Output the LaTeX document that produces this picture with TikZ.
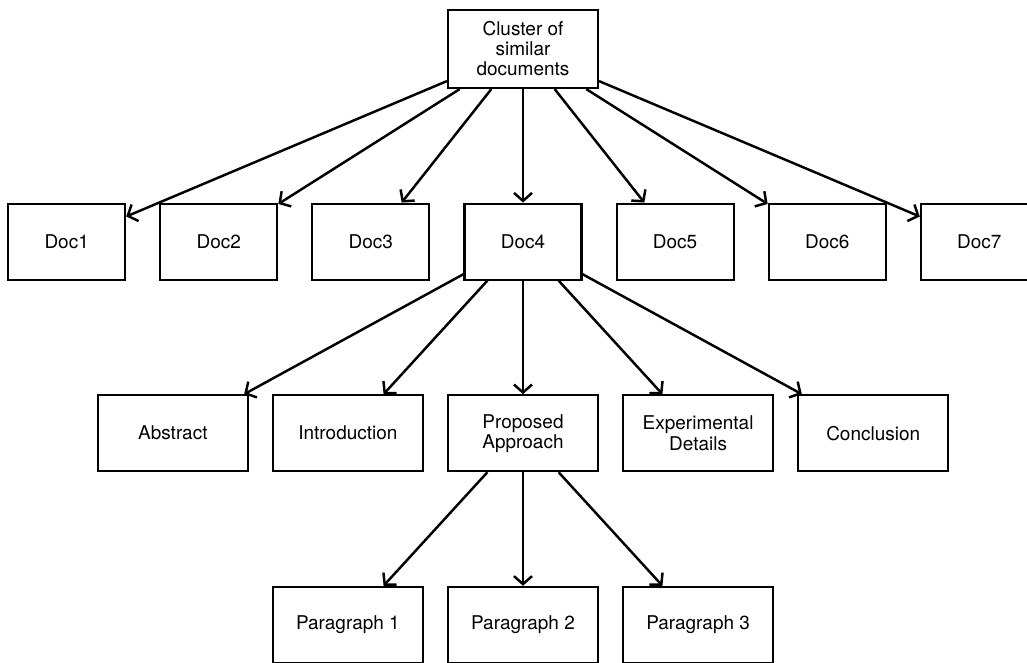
\documentclass[tikz,border=0pt]{standalone}
\usepackage{fontspec}
\setmainfont{TeX Gyre Heros}
\usetikzlibrary{arrows.meta,positioning}

\begin{document}
\begin{tikzpicture}[
node distance=2.27cm and 0.66cm,
docbox/.style={
    draw,
    line width=1.2pt,
    minimum width=2.34cm,
    minimum height=1.52cm,
    inner sep=2pt,
    align=center,
    font=\fontsize{10.8}{11.4}\selectfont
},
partbox/.style={docbox, minimum width=3cm},
arrow/.style={-{Straight Barb[length=1.6mm,width=3.6mm]}, line width=1.4pt}
]
\useasboundingbox (-10.46,0.98) rectangle (10.08,-12.26);

\node[partbox, minimum height=1.56cm] (cluster) {Cluster of\\similar\\documents};

% documents
\node[docbox, below=of cluster] (doc4) {Doc4};
\node[docbox, left=of doc4] (doc3) {Doc3};
\node[docbox, left=of doc3] (doc2) {Doc2};
\node[docbox, left=of doc2] (doc1) {Doc1};
\node[docbox, right=of doc4] (doc5) {Doc5};
\node[docbox, right=of doc5] (doc6) {Doc6};
\node[docbox, right=of doc6] (doc7) {Doc7};

% sections of Doc4
\node[partbox, below=of doc4] (approach) {Proposed\\Approach};
\node[partbox, left=0.46cm of approach] (intro) {Introduction};
\node[partbox, left=0.46cm of intro] (abstract) {Abstract};
\node[partbox, right=0.46cm of approach] (details) {Experimental\\Details};
\node[partbox, right=0.46cm of details] (concl) {Conclusion};

% paragraphs
\node[partbox, below=of approach] (para2) {Paragraph 2};
\node[partbox, left=0.46cm of para2] (para1) {Paragraph 1};
\node[partbox, right=0.46cm of para2] (para3) {Paragraph 3};

\foreach \d in {doc1,doc2,doc3,doc4,doc5,doc6,doc7}
    \draw[arrow] (cluster) -- (\d);
\foreach \s in {abstract,intro,approach,details,concl}
    \draw[arrow] (doc4) -- (\s);
\foreach \p in {para1,para2,para3}
    \draw[arrow] (approach) -- (\p);

\end{tikzpicture}
\end{document}
